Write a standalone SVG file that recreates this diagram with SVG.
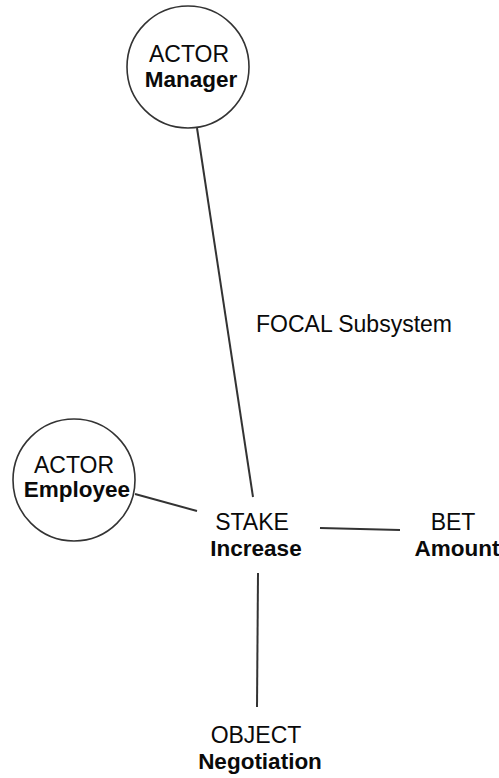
<svg xmlns="http://www.w3.org/2000/svg" width="499" height="778" viewBox="0 0 499 778">
<style>
.bg{fill:#ffffff}
.circ{fill:#ffffff;stroke:#333333;stroke-width:1.6}
.edge{stroke:#333333;stroke-width:2;fill:none}
text{font-family:"Liberation Sans",Arial,sans-serif;font-size:23px;fill:#0a0a0a;text-anchor:middle}
.b{font-weight:bold;font-size:22.5px}
</style>
<rect class="bg" width="499" height="778"/>
<g id="connectors">
<line class="edge" x1="197" y1="128" x2="253" y2="497"/>
<line class="edge" x1="135" y1="494" x2="197" y2="511"/>
<line class="edge" x1="320" y1="528" x2="400" y2="530"/>
<line class="edge" x1="258" y1="573" x2="257" y2="707"/>
</g>
<g id="manager">
<circle class="circ" cx="188" cy="67" r="61"/>
<text x="189" y="62">ACTOR</text>
<text class="b" x="191" y="87">Manager</text>
</g>
<g id="employee">
<circle class="circ" cx="74" cy="480" r="61"/>
<text x="74" y="473">ACTOR</text>
<text class="b" x="77" y="497">Employee</text>
</g>
<g id="focal">
<text x="354" y="332">FOCAL Subsystem</text>
</g>
<g id="stake">
<text x="252" y="530">STAKE</text>
<text class="b" x="256" y="556">Increase</text>
</g>
<g id="bet">
<text x="453" y="530">BET</text>
<text class="b" x="457" y="556">Amount</text>
</g>
<g id="object">
<text x="256" y="743">OBJECT</text>
<text class="b" x="260" y="769">Negotiation</text>
</g>
</svg>
